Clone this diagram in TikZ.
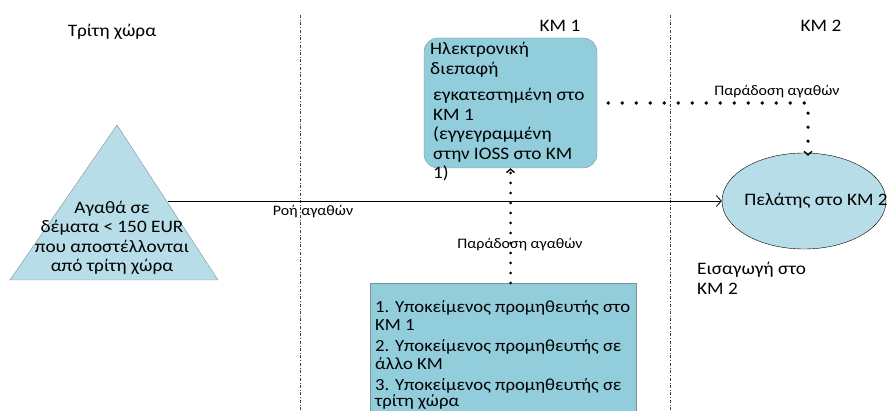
\documentclass[tikz,border=0pt]{standalone}
\usepackage{fontspec}
\setmainfont{Carlito}[FakeStretch=1.1]
\usepackage{xcolor}
\definecolor{boxblue}{RGB}{146, 205, 220}
\definecolor{paleblue}{RGB}{183, 222, 232}
\definecolor{edgegray}{RGB}{125, 145, 155}
\usepackage{tikz}
\usetikzlibrary{
    shapes.geometric,
    arrows.meta,
    positioning
}
\tikzstyle{box} = [
    rectangle,
    draw=edgegray,
    fill=boxblue,
    inner sep=0pt
]
\tikzstyle{boxtext} = [
    align=left,
    inner sep=0pt,
    font=\fontsize{17.5}{19.5}\selectfont
]
\tikzstyle{flowlabel} = [
    inner sep=1pt,
    font=\fontsize{14.5}{16}\selectfont
]
\tikzstyle{zoneline} = [
    dash dot,
    thin,
    black!75
]
\tikzstyle{arrow} = [
    thick,
    -{Straight Barb[length=5pt, width=11pt]}
]
\tikzstyle{dotarrow} = [
    line width=3pt,
    line cap=round,
    dash pattern=on 0pt off 10pt,
    -{Straight Barb[length=3.5pt, width=8pt, line width=1.4pt]}
]

\begin{document}
\begin{tikzpicture}[x=1pt, y=-1pt]

\useasboundingbox (0,0) rectangle (888,411);

% Grenzen der Gebiete
\draw [zoneline] (300,15) -- (300,411);
\draw [zoneline] (670,15) -- (670,411);

\node (third) [boxtext] at (112,32) {Τρίτη χώρα};
\node (ms1) [boxtext] at (560,26) {ΚΜ 1};
\node (ms2) [boxtext] at (821,26) {ΚΜ 2};

% Dreieck
\draw [draw=edgegray, fill=paleblue] (117,125) -- (218,280) -- (10,280) -- cycle;
\coordinate (triedge) at (167.5,201);
\node (goods) [boxtext, align=center] at (112,238)
    {Αγαθά σε\\δέματα < 150 EUR\\που αποστέλλονται\\από τρίτη χώρα};

\node (iface) [box, rounded corners=14pt, minimum width=173pt, minimum height=130pt]
    at (510.5,103) {};
\node (ifacetext) [boxtext, anchor=north west] at (430,42)
    {Ηλεκτρονική\\διεπαφή\\[7pt]
     \hspace*{3pt}εγκατεστημένη στο\\\hspace*{3pt}ΚΜ 1\\\hspace*{3pt}(εγγεγραμμένη\\
     \hspace*{3pt}στην IOSS στο ΚΜ\\\hspace*{3pt}1)};

\node (client) [ellipse, draw, fill=paleblue, minimum width=164pt, minimum height=96pt]
    at (804,201) {};
\node (clienttext) [boxtext] at (816,201) {Πελάτης στο ΚΜ 2};
\node (import) [boxtext, anchor=north west] at (697,262) {Εισαγωγή στο\\ΚΜ 2};

\node (supplier) [box, anchor=north west, minimum width=266pt, minimum height=150pt]
    at (370,283) {};
\node (suppliertext) [boxtext, anchor=north west, font=\fontsize{17}{18}\selectfont]
    at (375,300)
    {1. Υποκείμενος προμηθευτής στο\\ΚΜ 1\\[3.5pt]
     2. Υποκείμενος προμηθευτής σε\\άλλο ΚΜ\\[3pt]
     3. Υποκείμενος προμηθευτής σε\\[-2pt]τρίτη χώρα};

\draw [arrow] (triedge) -- (client.west);
\node (flow) [flowlabel] at (313,212) {Ροή αγαθών};

\draw [dotarrow] (supplier.north -| iface.south) -- (iface.south);
\node (delivery1) [flowlabel] at (520,245) {Παράδοση αγαθών};

\draw [dotarrow, line width=3.6pt, dash pattern=on 0pt off 14pt]
    ([xshift=11pt]iface.east) -| ([xshift=4pt, yshift=-3pt]client.north);
\node (delivery2) [flowlabel] at (777,92) {Παράδοση αγαθών};

\end{tikzpicture}
\end{document}
